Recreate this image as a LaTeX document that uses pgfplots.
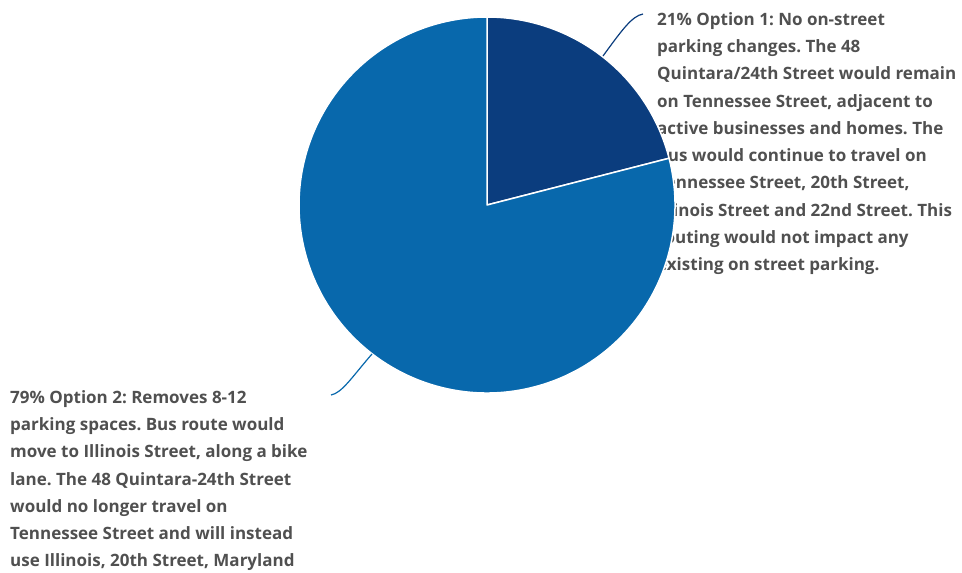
\documentclass[border=0pt]{standalone}
\usepackage{pgfplots}
\usepackage{pgfplotstable}
\pgfplotsset{compat=1.18}
\usepackage{fontspec}
\setmainfont{Open Sans}
\frenchspacing
\definecolor{sliceA}{HTML}{0B3D7E}
\definecolor{sliceB}{HTML}{0868AC}
\definecolor{txt}{HTML}{505050}
\pgfplotstableread{
share
21
79
}\pietable
\pgfplotstablegetelem{0}{share}\of\pietable \let\vA\pgfplotsretval
\pgfplotstablegetelem{1}{share}\of\pietable \let\vB\pgfplotsretval
\begin{document}
\begin{tikzpicture}
\useasboundingbox (0,0) rectangle (962pt,573pt);
\clip (0,0) rectangle (962pt,573pt);
\begin{axis}[
  anchor=origin, at={(0,0)},
  x=1pt, y=1pt,
  xmin=0, xmax=962, ymin=0, ymax=573,
  hide axis, clip=false,
]
\pgfmathsetmacro{\R}{188}
\pgfmathsetmacro{\aS}{90}
\pgfmathsetmacro{\aM}{90-\vA*3.6}
\pgfmathsetmacro{\aE}{\aM-\vB*3.6}
% labels (behind the pie)
\node[anchor=north west, align=left, text=txt, font=\fontsize{17}{27.3}\selectfont\bfseries, inner sep=0pt]
  at (axis cs:657,561) {21\% Option 1: No on-street\\
parking changes. The 48\\
Quintara/24th Street would remain\\
on Tennessee Street, adjacent to\\
active businesses and homes. The\\
bus would continue to travel on\\
Tennessee Street, 20th Street,\\
Illinois Street and 22nd Street. This\\
routing would not impact any\\
existing on street parking.};
\node[anchor=north west, align=left, text=txt, font=\fontsize{17}{27.3}\selectfont\bfseries, inner sep=0pt]
  at (axis cs:10,183) {79\% Option 2: Removes 8-12\\
parking spaces. Bus route would\\
move to Illinois Street, along a bike\\
lane. The 48 Quintara-24th Street\\
would no longer travel on\\
Tennessee Street and will instead\\
use Illinois, 20th Street, Maryland};
% slices
\filldraw[fill=sliceA, draw=white, line width=1.5pt, line join=round]
  (axis cs:487,368) -- ++(\aS:\R pt) arc[start angle=\aS, end angle=\aM, radius=\R pt] -- cycle;
\filldraw[fill=sliceB, draw=white, line width=1.5pt, line join=round]
  (axis cs:487,368) -- ++(\aM:\R pt) arc[start angle=\aM, end angle=\aE, radius=\R pt] -- cycle;
% connectors
\draw[sliceA, line width=1.2pt] (axis cs:603,517) .. controls (axis cs:622,543) and (axis cs:632,557) .. (axis cs:643,559);
\draw[sliceB, line width=1.2pt] (axis cs:372,219) .. controls (axis cs:352,196) and (axis cs:342,180) .. (axis cs:331,178);
\end{axis}
\end{tikzpicture}
\end{document}
